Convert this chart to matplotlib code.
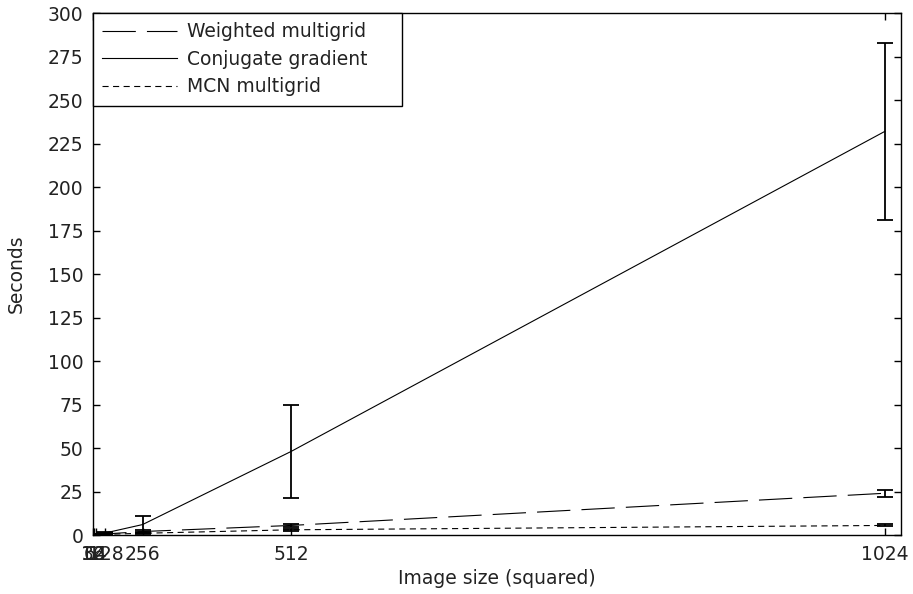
import matplotlib.pyplot as plt
from matplotlib.lines import Line2D
import numpy as np

plt.rcParams['font.family'] = ['DejaVu Sans']

# image sizes (side length), plotted against size squared
sizes = np.array([16, 32, 64, 128, 256, 512, 1024])

# Weighted multigrid
wm_mean = [0.05, 0.1, 0.2, 0.6, 2.0, 5.5, 24.0]
wm_err = [0.02, 0.05, 0.1, 0.3, 1.0, 1.0, 2.0]

# Conjugate gradient
cg_mean = [0.05, 0.1, 0.3, 1.2, 6.0, 48.0, 232.0]
cg_err = [0.02, 0.05, 0.2, 0.8, 5.0, 27.0, 51.0]

# MCN multigrid
mcn_mean = [0.05, 0.1, 0.2, 0.4, 1.0, 3.0, 5.5]
mcn_err = [0.02, 0.05, 0.1, 0.2, 0.5, 0.7, 0.6]

tick_sizes = [16, 32, 64, 128, 256, 512, 1024]
labels = ['Weighted multigrid', 'Conjugate gradient', 'MCN multigrid']

fs = 13.5
fig = plt.figure(figsize=(9.13, 5.94), dpi=100)
ax = fig.add_axes([0.1019, 0.0993, 0.885, 0.8787])

x = sizes ** 2
lw = 0.8
styles = [dict(dashes=(30, 10)), dict(ls='-'), dict(dashes=(5.5, 4))]
for mean, err, st in zip([wm_mean, cg_mean, mcn_mean], [wm_err, cg_err, mcn_err], styles):
    ax.errorbar(x, mean, yerr=err, color='black', lw=lw, capsize=5.5,
                elinewidth=1.3, capthick=1.3, **st)

ax.set_xlim(0, 1070000)
ax.set_ylim(0, 300)
ax.set_xticks([s ** 2 for s in tick_sizes])
ax.set_xticklabels([str(s) for s in tick_sizes])
ax.set_yticks(np.arange(0, 301, 25))
ax.tick_params(direction='in', top=True, right=True, length=5, width=1,
               labelsize=fs, pad=7, labelcolor='#222222')
for sp in ax.spines.values():
    sp.set_linewidth(1)

ax.set_xlabel('Image size (squared)', fontsize=fs, labelpad=4, color='#222222')
ax.set_ylabel('Seconds', fontsize=fs, labelpad=16, color='#222222')

handles = [Line2D([], [], color='black', lw=lw, **st) for st in styles]
leg = ax.legend(handles, labels, loc='upper left', fontsize=fs, frameon=True,
                fancybox=False, edgecolor='black', borderaxespad=0,
                bbox_to_anchor=(0, 0, 309 / 808, 1), mode='expand',
                handlelength=4.0, borderpad=0.5, labelspacing=0.45,
                handletextpad=0.5, labelcolor='#222222')
leg.get_frame().set_linewidth(1)
leg.get_frame().set_alpha(1)

fig.savefig('out.png', dpi=100)
